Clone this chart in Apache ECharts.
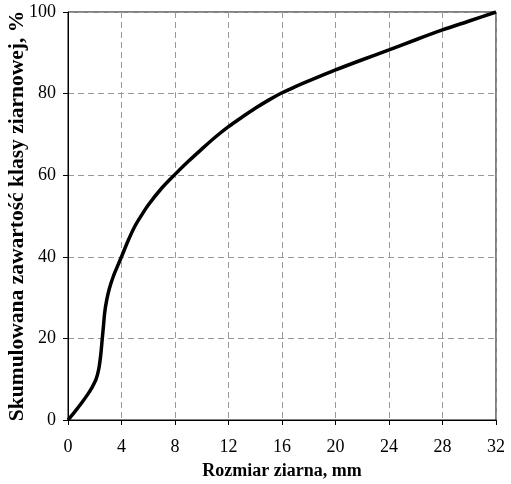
<!DOCTYPE html>
<html><head><meta charset="utf-8">
<script src="https://cdn.jsdelivr.net/npm/echarts@6/dist/echarts.min.js"></script>
<style>html,body{margin:0;padding:0;background:#fff}#c{width:511px;height:484px}</style>
</head><body><div id="c"></div>
<script>
var grainSize = [0,0.5,1,1.5,1.8,2.1,2.3,2.45,2.55,2.65,2.75,2.9,3.1,3.4,3.7,4,4.5,5,5.5,6,7,8,9,10,11,12,13,14,15,16,17,18,20,22,24,26,28,30,32];
var cumulative = [0,2,4.1,6.4,8,10,12.5,16,19.5,23,26.5,29.5,32.3,35.3,37.7,40,44,47.5,50.2,52.7,56.8,60.2,63.4,66.4,69.3,71.9,74.2,76.4,78.4,80.2,81.7,83.1,85.8,88.3,90.7,93.2,95.6,97.8,100];
var xTitle = 'Rozmiar ziarna, mm';
var yTitle = 'Skumulowana zawartość klasy ziarnowej, %';

var data = grainSize.map(function(x,i){return [x,cumulative[i]];});
var font = '"Liberation Serif","Times New Roman",serif';
var chart = echarts.init(document.getElementById('c'));
chart.setOption({
  animation:false,
  backgroundColor:'#fff',
  grid:{left:68,right:15,top:12,bottom:64,outerBoundsMode:'none',containLabel:false,show:true,borderColor:'#000',borderWidth:1,backgroundColor:'transparent'},
  xAxis:{type:'value',min:0,max:32,interval:4,
    name:xTitle,nameLocation:'middle',nameGap:42,nameMoveOverlap:false,
    nameTextStyle:{fontFamily:font,fontSize:18,fontWeight:'bold',color:'#000'},
    axisLine:{lineStyle:{color:'#000',width:1}},
    axisTick:{show:true,inside:false,length:5,lineStyle:{color:'#000'}},
    axisLabel:{fontFamily:font,fontSize:18,color:'#000',margin:18},
    splitLine:{show:true,lineStyle:{color:'#999',type:[6,4],width:1}}},
  yAxis:{type:'value',min:0,max:100,interval:20,
    name:yTitle,nameLocation:'middle',nameGap:40,nameRotate:90,nameMoveOverlap:false,
    nameTextStyle:{fontFamily:font,fontSize:21.5,fontWeight:'bold',color:'#000'},
    axisLine:{show:true,lineStyle:{color:'#000',width:1}},
    axisTick:{show:true,inside:false,length:5,lineStyle:{color:'#000'}},
    axisLabel:{fontFamily:font,fontSize:18,color:'#000',margin:12},
    splitLine:{show:true,lineStyle:{color:'#999',type:[6,4],width:1}}},
  series:[{type:'line',data:data,smooth:0.3,symbol:'none',
    lineStyle:{color:'#000',width:3.5}}]
});
</script></body></html>
